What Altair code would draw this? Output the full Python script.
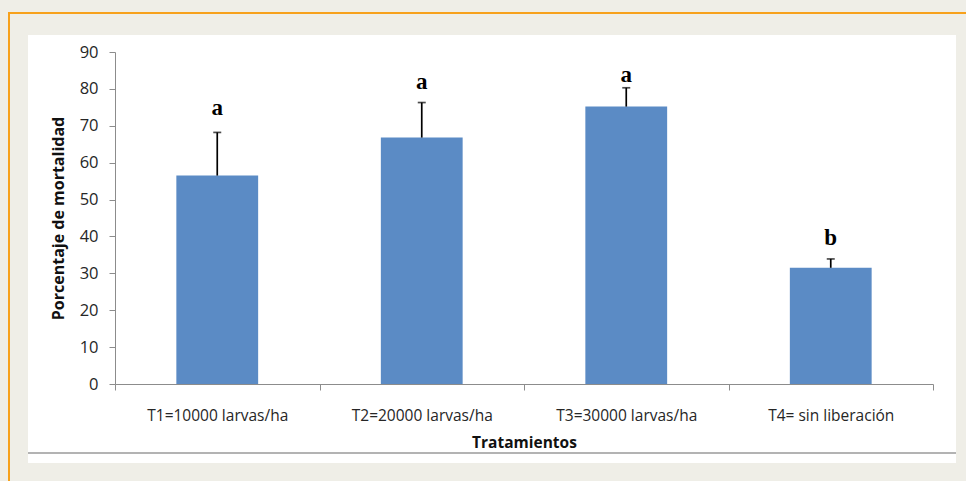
import altair as alt
import pandas as pd

categories = ["T1=10000 larvas/ha", "T2=20000 larvas/ha", "T3=30000 larvas/ha", "T4= sin liberación"]
mortality = [56.5, 66.8, 75.2, 31.5]
error = [11.7, 9.5, 5.1, 2.4]
letters = ["a", "a", "a", "b"]
letter_y = [72.9, 80.0, 81.9, 37.7]
y_ticks = [0, 10, 20, 30, 40, 50, 60, 70, 80, 90]

df = pd.DataFrame({
    "cat": categories,
    "val": mortality,
    "upper": [m + e for m, e in zip(mortality, error)],
    "letter": letters,
    "ly": letter_y,
})
one = pd.DataFrame({"k": [0]})

xaxis = alt.Axis(title="Tratamientos", labelAngle=0, tickBand="extent",
                 tickSize=6, tickColor="#8c8c8c", domainColor="#8c8c8c",
                 labelFont="Open Sans", labelFontSize=15.5, labelColor="#262626",
                 labelPadding=18, titleFont="Open Sans", titleFontSize=15.5,
                 titleFontWeight="bold", titleColor="#111111",
                 titleY=63, titleBaseline="alphabetic", zindex=1)
yaxis = alt.Axis(title="Porcentaje de mortalidad", values=y_ticks, labelOverlap=False,
                 grid=False, tickSize=6, tickColor="#8c8c8c", domainColor="#8c8c8c",
                 labelFont="Open Sans", labelFontSize=16.5, labelColor="#262626",
                 labelPadding=11, titleFont="Open Sans", titleFontSize=16,
                 titleFontWeight="bold", titleColor="#111111",
                 titleAngle=270, titleX=-57, titleY=166, titleAlign="center",
                 titleBaseline="middle", zindex=1)
xscale = alt.Scale(paddingInner=0, paddingOuter=0)
yscale = alt.Scale(domain=[0, 90])


def X():
    return alt.X("cat:N", sort=categories, scale=xscale, axis=xaxis)


def Y(field):
    return alt.Y(field, scale=yscale, axis=yaxis)


panel = alt.Chart(one).mark_rect(color="white").encode(
    x=alt.value(-87), x2=alt.value(841), y=alt.value(-17), y2=alt.value(411))
orange_top = alt.Chart(one).mark_rule(color="#F7A11C", strokeWidth=2).encode(
    x=alt.value(-107), x2=alt.value(900), y=alt.value(-39))
orange_left = alt.Chart(one).mark_rule(color="#F7A11C", strokeWidth=2).encode(
    x=alt.value(-106), y=alt.value(-40), y2=alt.value(460))
gray_line = alt.Chart(one).mark_rule(color="#9a9a9a", strokeWidth=1.5).encode(
    x=alt.value(-87), x2=alt.value(841), y=alt.value(401))

bars = alt.Chart(df).mark_bar(color="#5B8BC5", width=alt.RelativeBandSize(0.4)).encode(
    x=X(), y=Y("val:Q"))
err = alt.Chart(df).mark_rule(color="black", strokeWidth=1.7).encode(
    x=X(), y=Y("val:Q"), y2="upper:Q")
caps = alt.Chart(df).mark_tick(color="black", size=8, thickness=1.7).encode(
    x=X(), y=Y("upper:Q"))
labels = alt.Chart(df).mark_text(font="Liberation Serif", fontSize=23, fontWeight="bold",
                                 baseline="alphabetic", align="center", color="black").encode(
    x=X(), y=Y("ly:Q"), text="letter:N")

chart = alt.layer(panel, orange_top, orange_left, gray_line, bars, err, caps, labels).properties(
    width=818, height=332,
    padding={"left": 115, "top": 52, "right": 33, "bottom": 97},
    autosize=alt.AutoSizeParams(type="none"),
    background="#EFEEE7",
).configure_view(strokeWidth=0)

chart.save("out.html", embed_options={"renderer": "svg", "actions": False})
